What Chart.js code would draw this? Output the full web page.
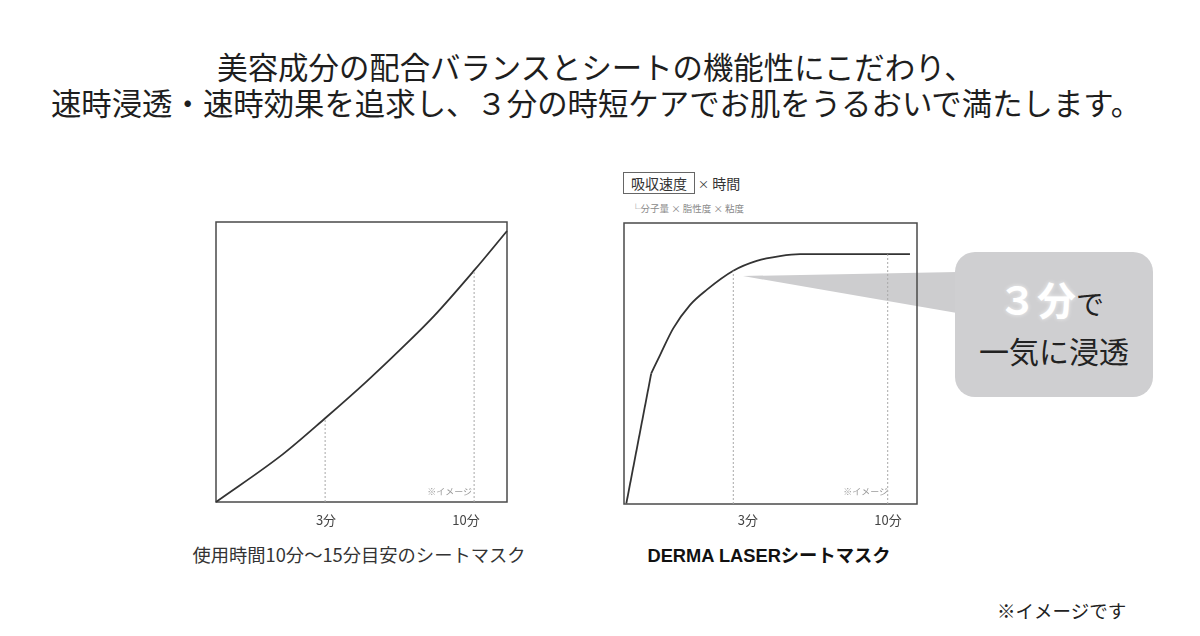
<!DOCTYPE html>
<html lang="ja">
<head>
<meta charset="utf-8">
<script src="https://cdn.jsdelivr.net/npm/chart.js@4.4.0/dist/chart.umd.min.js"></script>
<style>
    html, body { margin: 0; padding: 0; background: #fff; }
    #root { position: relative; width: 1200px; height: 636px; overflow: hidden; font-family: "Noto Sans CJK JP", "Noto Sans", sans-serif; color: #222; }
    .abs { position: absolute; white-space: nowrap; }
    canvas { position: absolute; z-index: 2; }
    #headline { left: -4px; top: 48px; width: 1200px; text-align: center; font-size: 30.4px; line-height: 36px; color: #1e1e1e; }
    .note { font-size: 9px; color: #9a9a9a; line-height: 12px; }
    #pointer { left: 743px; top: 272px; width: 214px; height: 41px; background: #cdcdcf; z-index: 1;
        clip-path: polygon(0 4px, 100% 0, 100% 100%); }
    #bubble { left: 955px; top: 252px; width: 198px; height: 145px; border-radius: 20px; background: #cfcfd1; z-index: 3; text-align: center; }
</style>
</head>
<body>
<div id="root">
    <div id="headline" class="abs">美容成分の配合バランスとシートの機能性にこだわり、<br>速時浸透・速時効果を追求し、３分の時短ケアでお肌をうるおいで満たします。</div>

    <div class="abs" style="left:623px; top:172px; width:70px; height:20px; border:1.5px solid #666; font-size:14px; line-height:20px; text-align:center; color:#333;">吸収速度</div>
    <div class="abs" style="left:698px; top:173px; font-size:14px; line-height:20px; color:#333;"><span style="font-size:11px;">×</span> 時間</div>
    <div class="abs" style="left:631px; top:202px; font-size:9.5px; line-height:12px; color:#8a8a8a;">└分子量 × 脂性度 × 粘度</div>

    <div id="pointer" class="abs"></div>
    <div id="bubble" class="abs">
        <div style="margin-top:24px; line-height:44px; margin-left:-6px;"><span style="font-size:39px; font-weight:700; color:#fff; text-shadow:0 0 4px rgba(255,255,255,0.7);">３分</span><span style="font-size:28px; color:#222;">で</span></div>
        <div style="margin-top:2px; font-size:30px; line-height:36px; color:#222;">一気に浸透</div>
    </div>

    <canvas id="chartLeft" width="311" height="320" style="left:206px; top:212px;"></canvas>
    <canvas id="chartRight" width="313" height="321" style="left:614px; top:213px;"></canvas>

    <div class="abs note" style="left:400px; width:72px; text-align:right; top:486px; z-index:3;">※イメージ</div>
    <div class="abs note" style="left:816px; width:72px; text-align:right; top:486px; z-index:3;">※イメージ</div>

    <div class="abs" style="left:159px; width:400px; text-align:center; top:541px; font-size:18.3px; line-height:26px; color:#333;">使用時間10分〜15分目安のシートマスク</div>
    <div class="abs" style="left:569px; width:400px; text-align:center; top:543px; font-size:18.3px; line-height:26px; font-weight:700; color:#111; font-family:'Liberation Sans','Noto Sans CJK JP',sans-serif;">DERMA LASERシートマスク</div>

    <div class="abs" style="left:997px; top:597px; font-size:18.5px; line-height:26px; color:#222;">※イメージです</div>
</div>

<script>
const $i = document.getElementById.bind(document);

// tick labels (shared by both charts)
const tickLabels = ["3分", "10分"];
const leftTickPos = [37.8, 85.9];
const rightTickPos = [42.3, 90.1];

// 使用時間10分〜15分目安のシートマスク
const leftX = [0, 22.9, 37.5, 51.7, 63.3, 74.8, 88.7, 100];
const leftY = [0, 17.0, 29.9, 43.0, 54.4, 66.3, 82.7, 96.8];
const leftMarkX = [37.5, 88.7];
const leftMarkY = [29.9, 82.7];

// DERMA LASERシートマスク
const riseX = [0.8, 9.3];
const riseY = [0.2, 46.5];
const curveX = [9.3, 12.3, 16.8, 22.5, 28.2, 37.3, 45.3, 53.2, 60.1, 97.6];
const curveY = [46.5, 53.0, 62.5, 70.8, 76.2, 83.0, 86.5, 88.2, 88.9, 88.9];
const rightMarkX = [37.3, 90.0];
const rightMarkY = [83.0, 88.9];

const toPoints = (xs, ys) => xs.map((x, k) => ({ x: x, y: ys[k] }));

// Khung vuông quanh vùng vẽ
const framePlugin = {
    id: 'frame',
    beforeDatasetsDraw(chart) {
        const a = chart.chartArea;
        const ctx = chart.ctx;
        ctx.save();
        ctx.strokeStyle = '#4a4a4a';
        ctx.lineWidth = 1.5;
        ctx.strokeRect(a.left, a.top, a.right - a.left, a.bottom - a.top);
        ctx.restore();
    }
};

function markSets(xs, ys) {
    return xs.map((x, k) => ({
        data: [{ x: x, y: 0 }, { x: x, y: ys[k] }],
        borderColor: '#a8a8a8',
        borderWidth: 1,
        borderDash: [2, 2],
        pointRadius: 0,
        tension: 0,
        clip: false
    }));
}

function curveSet(points, smooth) {
    return {
        data: points,
        borderColor: '#333',
        borderWidth: 1.8,
        pointRadius: 0,
        cubicInterpolationMode: smooth ? 'monotone' : 'default',
        tension: 0,
        clip: false
    };
}

function drawChart(id, datasets, tickPos, tickPad) {
    const ctx = $i(id).getContext('2d');
    return new Chart(ctx, {
        type: 'line',
        data: { datasets: datasets },
        options: {
            responsive: false,
            animation: false,
            layout: { padding: { left: 10, right: 10, top: 10, bottom: 0 } },
            plugins: { legend: { display: false }, tooltip: { enabled: false } },
            scales: {
                x: {
                    type: 'linear', min: 0, max: 100,
                    grid: { display: false, drawTicks: false },
                    border: { display: false },
                    afterBuildTicks: s => { s.ticks = tickPos.map(v => ({ value: v })); },
                    afterFit: s => { s.height = 30; },
                    ticks: {
                        autoSkip: false, maxRotation: 0, padding: tickPad,
                        color: '#444',
                        font: { family: '"Noto Sans CJK JP", sans-serif', size: 13 },
                        callback: (v, idx) => tickLabels[idx]
                    }
                },
                y: { type: 'linear', min: 0, max: 100, display: false }
            }
        },
        plugins: [framePlugin]
    });
}

drawChart('chartLeft',
    markSets(leftMarkX, leftMarkY).concat([curveSet(toPoints(leftX, leftY), true)]),
    leftTickPos, 10);

drawChart('chartRight',
    markSets(rightMarkX, rightMarkY).concat([
        curveSet(toPoints(riseX, riseY), false),
        curveSet(toPoints(curveX, curveY), true)
    ]),
    rightTickPos, 8);
</script>
</body>
</html>
